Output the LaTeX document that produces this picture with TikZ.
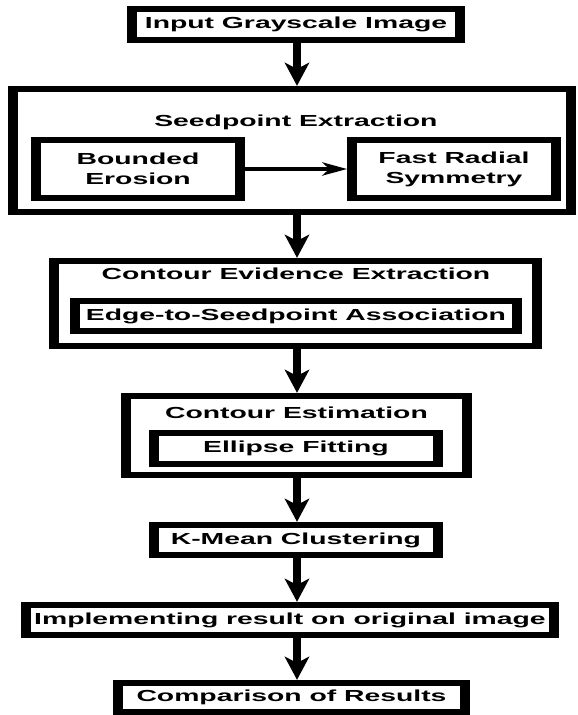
\documentclass[tikz,border=0pt]{standalone}
\usepackage{fontspec}
\setmainfont{Liberation Sans}
\usetikzlibrary{arrows.meta}
\begin{document}
\begin{tikzpicture}[x=1pt,y=1pt,
  box/.style={draw, line width=5.7pt, inner sep=0pt, align=center,
    font=\bfseries\fontsize{16}{20}\selectfont},
  ttl/.style={inner sep=0pt, anchor=base, font=\bfseries\fontsize{16}{20}\selectfont},
  varr/.style={line width=4.2pt, -{Stealth[length=23pt,width=13.5pt,inset=6pt]}},
  harr/.style={line width=4.2pt, -{Stealth[length=14pt,width=13.3pt,inset=4pt]}}]
\fill[white] (0,0) rectangle (578,715);
\useasboundingbox (0,0) rectangle (578,715);
\begin{scope}[transform canvas={xscale=1.77}]
  \coordinate (ax) at (167.8,0);
  % top box
  \node[box, minimum width=185.3pt, minimum height=31.3pt] (input) at (167.23,690.5) {Input Grayscale Image};
  % seedpoint extraction
  \node[box, minimum width=315.2pt, minimum height=123.3pt] (seed) at (164.97,564.5) {};
  \node[ttl] (seedt) at (167.2,588.5) {Seedpoint Extraction};
  \node[box, minimum width=115.2pt, minimum height=58.3pt] (be) at (77.97,546) {Bounded\\Erosion};
  \node[box, minimum width=115.2pt, minimum height=58.3pt] (frs) at (256.5,546) {Fast Radial\\Symmetry};
  % contour evidence extraction
  \node[box, minimum width=272.8pt, minimum height=85.3pt] (cee) at (166.95,411.5) {};
  \node[ttl] (ceet) at (167.2,435) {Contour Evidence Extraction};
  \node[box, minimum width=249.7pt, minimum height=30.3pt] (esa) at (167.2,399) {Edge-to-Seedpoint Association};
  % contour estimation
  \node[box, minimum width=192.6pt, minimum height=79.3pt] (cest) at (167.5,279.5) {};
  \node[ttl] (cestt) at (167.5,296) {Contour Estimation};
  \node[box, minimum width=160.4pt, minimum height=31.3pt] (ef) at (167.2,266.5) {Ellipse Fitting};
  % lower chain
  \node[box, minimum width=160.4pt, minimum height=30.3pt] (km) at (167.2,175) {K-Mean Clustering};
  \node[box, minimum width=298.3pt, minimum height=30.3pt] (impl) at (163.8,95) {Implementing result on original image};
  \node[box, minimum width=196pt, minimum height=29.3pt] (comp) at (164.7,17.5) {Comparison of Results};
  % connectors
  \draw[varr] (input.south -| ax) -- (seed.north -| ax);
  \draw[harr] (be.east) -- (frs.west);
  \draw[varr] (seed.south -| ax) -- (cee.north -| ax);
  \draw[varr] (cee.south -| ax) -- (cest.north -| ax);
  \draw[varr] (cest.south -| ax) -- (km.north -| ax);
  \draw[varr] (km.south -| ax) -- (impl.north -| ax);
  \draw[varr] (impl.south -| ax) -- (comp.north -| ax);
\end{scope}
\end{tikzpicture}
\end{document}
